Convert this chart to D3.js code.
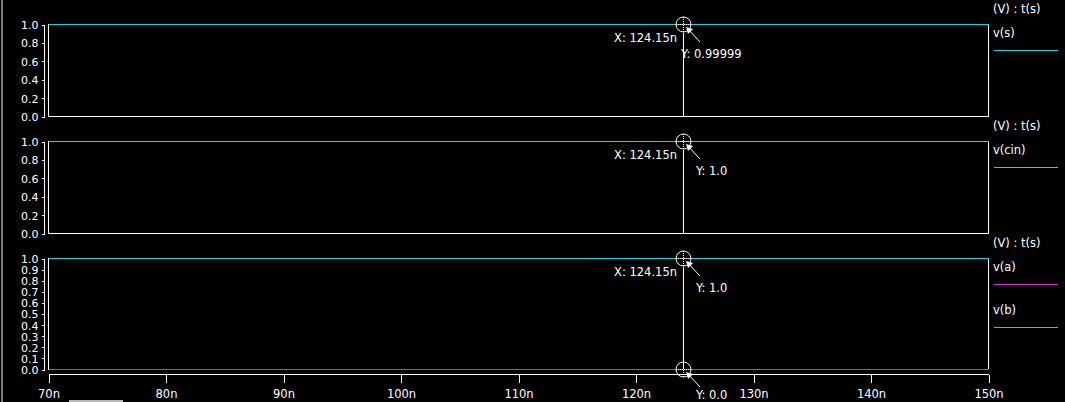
<!DOCTYPE html>
<html><head><meta charset="utf-8">
<script src="https://cdn.jsdelivr.net/npm/d3@7"></script>
<style>html,body{margin:0;padding:0;background:#000;overflow:hidden}svg{display:block}</style>
</head><body>
<script>
// ---- data ----
const timeNs = [70, 150];
const vS   = [0.99999, 0.99999];
const vCin = [1.0, 1.0];
const vA   = [0.0, 0.0];
const vB   = [1.0, 1.0];
const xTicks = [70, 80, 90, 100, 110, 120, 130, 140, 150];
const yTicksCoarse = [0, 0.2, 0.4, 0.6, 0.8, 1.0];
const yTicksFine = [0, 0.1, 0.2, 0.3, 0.4, 0.5, 0.6, 0.7, 0.8, 0.9, 1.0];
const cursorTime = 124.15;
const headerText = "(V) : t(s)";

const W = 1065, H = 402;
const CYAN = "#00dde6", GREEN = "#33ee33", MAGENTA = "#dd22dd";
const FONT = "DejaVu Sans, sans-serif";

const panels = [
  {top: 24, bottom: 116, ticks: yTicksCoarse,
   series: [{name: "v(s)", values: vS, color: CYAN}],
   markers: [{value: vS[0], label: "Y: 0.99999", ydx: -2, ydy: 34}]},
  {top: 141, bottom: 233, ticks: yTicksCoarse,
   series: [{name: "v(cin)", values: vCin, color: GREEN}],
   markers: [{value: vCin[0], label: "Y: 1.0", ydx: 13, ydy: 34}]},
  {top: 258, bottom: 369, ticks: yTicksFine,
   series: [{name: "v(a)", values: vA, color: MAGENTA}, {name: "v(b)", values: vB, color: CYAN}],
   markers: [{value: vB[0], label: "Y: 1.0", ydx: 13, ydy: 34}, {value: vA[0], label: "Y: 0.0", ydx: 13, ydy: 30}]}
];

const svg = d3.select("body").append("svg").attr("width", W).attr("height", H)
  .style("background", "#000");
svg.append("rect").attr("width", W).attr("height", H).attr("fill", "#000");
// left window strip
svg.append("rect").attr("x", 1).attr("y", 0).attr("width", 2).attr("height", H).attr("fill", "#7a7a7a");
// bottom scrollbar bit
svg.append("rect").attr("x", 69).attr("y", 400).attr("width", 54).attr("height", 2).attr("fill", "#b8b8b8");

const x = d3.scaleLinear().domain([70, 150]).range([48, 988]);
const g = svg.append("g").attr("transform", "translate(0.5,0.5)").attr("shape-rendering", "crispEdges");
const overG = g.append("g");
const cx = Math.round(x(cursorTime)) - 1;

panels.forEach(p => {
  const y = d3.scaleLinear().domain([0, 1]).range([p.bottom, p.top]);
  // box
  g.append("rect").attr("x", 48).attr("y", p.top).attr("width", 940).attr("height", p.bottom - p.top)
    .attr("fill", "none").attr("stroke", "#fff");
  // y axis
  const ax = g.append("g").attr("transform", "translate(44,0)")
    .call(d3.axisLeft(y).tickValues(p.ticks).tickFormat(d3.format(".1f")).tickSize(3).tickPadding(3));
  ax.select(".domain").attr("stroke", "#fff").attr("d", `M0,${p.top}V${p.bottom}`);
  ax.selectAll(".tick line").attr("stroke", "#fff");
  ax.selectAll(".tick text").attr("fill", "#fff").style("font-family", FONT).style("font-size", "11px")
    .attr("dy", "0.36em");
  // cursor line
  const ctop = Math.round(y(p.markers[0].value));
  g.append("line").attr("x1", cx).attr("x2", cx).attr("y1", ctop + 8).attr("y2", p.bottom).attr("stroke", "#fff");
  // series (drawn over box)
  const lineGen = d3.line().x((d, i) => x(timeNs[i])).y(d => Math.round(y(d)));
  p.series.forEach(s => {
    overG.append("path").datum(s.values).attr("d", lineGen).attr("fill", "none").attr("stroke", s.color);
  });
  // header + legend
  svg.append("text").attr("x", 993).attr("y", p.top - 11).text(headerText)
    .attr("fill", "#fff").style("font-family", FONT).style("font-size", "11.5px");
  p.series.forEach((s, i) => {
    const ly = p.top + i * 43;
    svg.append("text").attr("x", 993).attr("y", ly + 13).text(s.name)
      .attr("fill", "#fff").style("font-family", FONT).style("font-size", "11.5px");
    overG.append("line").attr("x1", 993).attr("x2", 1057).attr("y1", ly + 26).attr("y2", ly + 26).attr("stroke", s.color);
  });
  p.markers.forEach((m, mi) => {
    const cy = Math.round(y(m.value));
    const mg = svg.append("g");
    mg.append("circle").attr("cx", cx + 0.5).attr("cy", cy + 0.5).attr("r", 7.5).attr("fill", "none")
      .attr("stroke", "#fff").attr("stroke-width", 1);
    mg.append("line").attr("x1", cx + 0.5).attr("x2", cx + 0.5).attr("y1", cy - 7).attr("y2", cy + 8)
      .attr("stroke", "#fff").attr("stroke-dasharray", "1,1").attr("shape-rendering", "crispEdges");
    mg.append("line").attr("x1", cx - 7).attr("x2", cx + 8).attr("y1", cy + 0.5).attr("y2", cy + 0.5)
      .attr("stroke", "#fff").attr("stroke-dasharray", "1,1").attr("shape-rendering", "crispEdges");
    // arrow
    const tipX = cx + 3, tipY = cy + 3;
    mg.append("line").attr("x1", cx + 17).attr("y1", cy + 18).attr("x2", tipX + 2).attr("y2", tipY + 2)
      .attr("stroke", "#fff");
    mg.append("path").attr("d", `M${tipX},${tipY}L${tipX + 7},${tipY + 2}L${tipX + 2},${tipY + 7}Z`).attr("fill", "#fff");
    if (mi === 0) {
      mg.append("text").attr("x", cx - 6).attr("y", cy + 18).attr("text-anchor", "end").text("X: " + cursorTime + "n")
        .attr("fill", "#fff").style("font-family", FONT).style("font-size", "11.5px");
    }
    mg.append("text").attr("x", cx + m.ydx).attr("y", cy + m.ydy).text(m.label)
      .attr("fill", "#fff").style("font-family", FONT).style("font-size", "11.5px");
  });
});

// x axis
const xa = g.append("g").attr("transform", "translate(0,374)")
  .call(d3.axisBottom(x).tickValues(xTicks).tickFormat(d => d + "n").tickSize(8).tickPadding(7));
xa.select(".domain").attr("stroke", "#fff").attr("d", "M48,0H988");
xa.selectAll(".tick line").attr("stroke", "#fff");
xa.selectAll(".tick text").attr("fill", "#fff").style("font-family", FONT).style("font-size", "11.5px")
  .attr("dy", "0.71em");
overG.raise();
</script>
</body></html>
